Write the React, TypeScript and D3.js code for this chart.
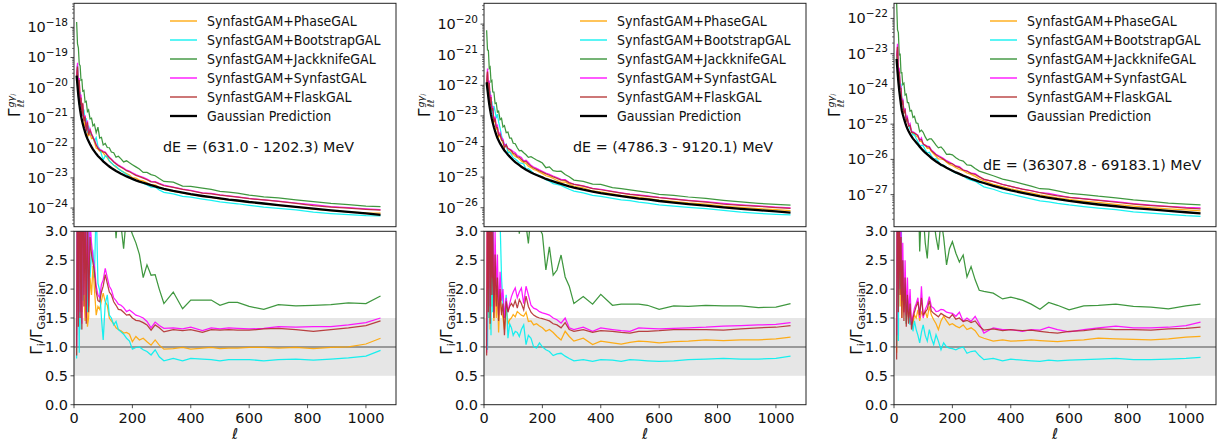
import React from "react";
import * as d3 from "d3";

// multipole bins shared by every panel
const ELL = [
  9, 12, 15, 18, 21, 24, 27, 30, 34, 38,
  42, 46, 50, 55, 60, 65, 70, 76, 82, 88,
  94, 100, 107, 114, 121, 128, 136, 144, 152, 161,
  170, 180, 190, 200, 212, 224, 237, 250, 264, 278,
  292, 308, 340, 372, 400, 440, 470, 500, 530, 560,
  600, 650, 700, 760, 820, 880, 940, 1000, 1050,
];

const SERIES = [
  "SynfastGAM+PhaseGAL",
  "SynfastGAM+BootstrapGAL",
  "SynfastGAM+JackknifeGAL",
  "SynfastGAM+SynfastGAL",
  "SynfastGAM+FlaskGAL",
];
const GAUSS_LABEL = "Gaussian Prediction";
const ENERGY_BINS = [
  "dE = (631.0 - 1202.3) MeV",
  "dE = (4786.3 - 9120.1) MeV",
  "dE = (36307.8 - 69183.1) MeV",
];
const X_TICKS = [0, 200, 400, 600, 800, 1000];
const RATIO_TICKS = [0, 0.5, 1, 1.5, 2, 2.5, 3];
const LOG_TICKS_1 = [-24, -23, -22, -21, -20, -19, -18];
const LOG_TICKS_2 = [-26, -25, -24, -23, -22, -21, -20];
const LOG_TICKS_3 = [-27, -26, -25, -24, -23, -22];

// log10 of the Gaussian prediction
const GAUSS_LOG_1 = [
  -19.6, -19.95, -20.28, -20.53, -20.75, -20.93, -21.08, -21.2, -21.35, -21.48,
  -21.6, -21.7, -21.78, -21.88, -21.97, -22.05, -22.12, -22.2, -22.27, -22.33,
  -22.39, -22.45, -22.51, -22.57, -22.62, -22.67, -22.72, -22.77, -22.81, -22.86,
  -22.9, -22.95, -22.99, -23.03, -23.08, -23.12, -23.16, -23.2, -23.24, -23.28,
  -23.32, -23.36, -23.43, -23.49, -23.54, -23.6, -23.64, -23.68, -23.72, -23.75,
  -23.8, -23.85, -23.9, -23.96, -24.02, -24.08, -24.13, -24.18, -24.23,
];
const GAUSS_LOG_2 = [
  -21.9, -22.15, -22.4, -22.62, -22.8, -22.96, -23.1, -23.22, -23.37, -23.5,
  -23.62, -23.72, -23.8, -23.9, -23.98, -24.06, -24.13, -24.2, -24.27, -24.33,
  -24.39, -24.45, -24.51, -24.56, -24.61, -24.66, -24.71, -24.76, -24.8, -24.85,
  -24.89, -24.93, -24.97, -25.01, -25.06, -25.1, -25.14, -25.18, -25.22, -25.26,
  -25.3, -25.34, -25.41, -25.47, -25.52, -25.58, -25.62, -25.66, -25.7, -25.73,
  -25.78, -25.83, -25.88, -25.93, -25.99, -26.04, -26.08, -26.12, -26.16,
];
const GAUSS_LOG_3 = [
  -23.15, -23.5, -23.8, -24.05, -24.25, -24.45, -24.62, -24.72, -24.84, -24.95,
  -25.05, -25.13, -25.2, -25.28, -25.35, -25.41, -25.46, -25.52, -25.58, -25.64,
  -25.7, -25.75, -25.81, -25.86, -25.91, -25.96, -26.01, -26.06, -26.1, -26.15,
  -26.19, -26.24, -26.28, -26.32, -26.37, -26.41, -26.46, -26.5, -26.55, -26.59,
  -26.63, -26.67, -26.75, -26.82, -26.88, -26.95, -27.0, -27.05, -27.09, -27.13,
  -27.18, -27.23, -27.28, -27.33, -27.38, -27.42, -27.46, -27.5, -27.53,
];

// ratios to the Gaussian prediction, panel 1
const PHASE_1 = [
  1.2, 4.5, 2.0, 5.5, 1.8, 3.8, 1.6, 3.2, 1.9, 1.45,
  2.6, 1.35, 1.5, 2.2, 1.9, 2.4, 2.0, 1.55, 1.7, 1.65,
  1.8, 1.93, 1.78, 1.72, 1.5, 1.45, 1.4, 1.33, 1.3, 1.28,
  1.24, 1.25, 1.22, 1.09, 1.18, 1.12, 1.15, 1.09, 1.03, 1.12,
  1.03, 0.96, 0.97, 0.99, 0.96, 0.98, 0.99, 0.97, 0.98, 0.98,
  0.99, 0.99, 0.98, 0.99, 0.97, 0.99, 1.0, 1.05, 1.15,
];
const BOOT_1 = [
  0.8, 5.0, 2.5, 0.9, 4.0, 1.3, 3.5, 1.8, 4.2, 2.3,
  3.8, 1.6, 3.3, 2.2, 2.6, 2.65, 2.2, 3.5, 2.1, 1.98,
  1.5, 1.12, 1.75, 1.9, 1.55, 1.5, 1.38, 1.44, 1.3, 1.26,
  1.22, 1.15, 1.1, 0.96, 0.99, 1.0, 0.95, 0.92, 0.86, 0.95,
  0.83, 0.76, 0.8, 0.76, 0.8, 0.79, 0.78, 0.76, 0.78, 0.78,
  0.78, 0.76, 0.78, 0.79, 0.77, 0.79, 0.81, 0.84, 0.94,
];
const JACK_1 = [
  60, 25, 40, 20, 30, 15, 22, 12, 18, 10,
  14, 8, 11, 7, 9, 6, 8, 5, 9, 4.5,
  5.5, 3.5, 4.5, 3.8, 4.2, 3.4, 3.6, 2.88, 3.4, 3.1,
  2.7, 3.3, 3.1, 2.95, 2.8, 2.6, 2.2, 2.42, 2.24, 2.25,
  2.0, 1.75, 1.95, 1.66, 1.81, 1.81, 1.81, 1.72, 1.77, 1.77,
  1.7, 1.65, 1.73, 1.71, 1.72, 1.73, 1.76, 1.75, 1.88,
];
const SYNF_1 = [
  1.0, 6.0, 1.5, 7.0, 1.6, 5.0, 1.4, 4.5, 1.9, 3.6,
  1.5, 4.0, 1.7, 3.2, 2.8, 2.55, 2.4, 2.05, 1.9, 1.85,
  2.08, 2.16, 2.36, 2.2, 2.05, 1.99, 1.85, 1.8, 1.74, 1.72,
  1.68, 1.61, 1.64, 1.6, 1.55, 1.53, 1.5, 1.44, 1.33, 1.43,
  1.37, 1.32, 1.33, 1.31, 1.34, 1.28, 1.33, 1.31, 1.33, 1.32,
  1.31, 1.32, 1.35, 1.34, 1.35, 1.35, 1.38, 1.42, 1.5,
];
const FLASK_1 = [
  0.85, 4.5, 1.35, 6.0, 1.5, 4.0, 1.3, 5.0, 1.7, 3.3,
  1.4, 3.5, 1.6, 2.9, 2.6, 2.45, 2.3, 1.95, 1.8, 1.78,
  1.95, 2.05, 2.25, 2.1, 1.95, 1.9, 1.78, 1.72, 1.65, 1.64,
  1.6, 1.55, 1.56, 1.5, 1.46, 1.45, 1.42, 1.38, 1.29, 1.38,
  1.33, 1.26, 1.3, 1.28, 1.3, 1.25, 1.3, 1.29, 1.3, 1.29,
  1.29, 1.31, 1.32, 1.3, 1.27, 1.3, 1.33, 1.37, 1.45,
];

// panel 2
const PHASE_2 = [
  1.1, 3.8, 1.5, 4.5, 1.3, 3.0, 1.7, 2.6, 1.45, 2.2,
  1.5, 2.0, 1.25, 1.9, 1.6, 1.5, 1.3, 1.7, 1.4, 1.47,
  1.5, 1.56, 1.52, 1.61, 1.58, 1.55, 1.53, 1.6, 1.44, 1.45,
  1.38, 1.4, 1.36, 1.33, 1.27, 1.3, 1.25, 1.18, 1.12, 1.27,
  1.18, 1.1, 1.15, 1.04, 1.1, 1.07, 1.05, 1.08, 1.1, 1.09,
  1.07, 1.09, 1.1, 1.12, 1.11, 1.12, 1.12, 1.14, 1.17,
];
const BOOT_2 = [
  1.0, 0.95, 3.5, 1.5, 4.0, 1.2, 3.8, 1.6, 5.0, 4.5,
  3.5, 6.0, 4.0, 3.2, 2.2, 1.73, 1.5, 1.9, 1.15, 1.4,
  1.33, 1.2, 1.27, 1.25, 1.18, 1.3, 1.38, 1.04, 1.2, 1.15,
  1.0, 0.98, 1.07, 1.0, 0.95, 0.92, 0.85, 0.88, 0.89, 0.84,
  0.8, 0.76, 0.78, 0.75, 0.78, 0.77, 0.75, 0.78, 0.77, 0.76,
  0.75, 0.76, 0.78, 0.79, 0.8, 0.79, 0.79, 0.8, 0.84,
];
const JACK_2 = [
  50, 20, 35, 15, 25, 12, 18, 10, 14, 8,
  11, 7, 9, 6, 8, 5, 6.5, 4.5, 5.5, 4.0,
  4.6, 3.6, 4.0, 3.3, 2.96, 3.4, 3.2, 3.1, 2.79, 3.3,
  3.2, 3.1, 3.05, 2.95, 2.33, 2.73, 2.24, 2.33, 2.59, 2.21,
  2.05, 1.75, 1.87, 1.74, 1.91, 1.72, 1.74, 1.74, 1.74, 1.72,
  1.65, 1.71, 1.7, 1.72, 1.71, 1.71, 1.68, 1.69, 1.75,
];
const SYNF_2 = [
  0.9, 5.0, 2.0, 6.0, 1.7, 4.5, 2.2, 3.5, 1.6, 3.0,
  1.9, 2.6, 1.55, 2.3, 1.8, 2.0, 1.5, 1.85, 1.61, 1.75,
  1.87, 1.95, 2.02, 1.85, 1.95, 2.02, 1.75, 2.05, 1.9, 1.72,
  1.67, 1.65, 1.61, 1.59, 1.57, 1.55, 1.5, 1.47, 1.41, 1.5,
  1.33, 1.3, 1.34, 1.27, 1.33, 1.3, 1.28, 1.27, 1.33, 1.32,
  1.31, 1.32, 1.33, 1.34, 1.36, 1.37, 1.38, 1.39, 1.42,
];
const FLASK_2 = [
  0.85, 4.0, 1.6, 5.0, 1.4, 3.8, 1.9, 3.0, 1.5, 2.6,
  1.7, 2.2, 1.45, 2.0, 1.55, 1.75, 1.2, 1.79, 1.6, 1.7,
  1.75, 1.7, 1.8, 1.67, 1.82, 1.75, 1.64, 1.88, 1.7, 1.6,
  1.55, 1.52, 1.5, 1.49, 1.47, 1.45, 1.4, 1.38, 1.33, 1.42,
  1.3, 1.27, 1.3, 1.25, 1.28, 1.27, 1.25, 1.24, 1.27, 1.27,
  1.28, 1.3, 1.3, 1.3, 1.29, 1.31, 1.33, 1.34, 1.37,
];

// panel 3
const PHASE_3 = [
  0.9, 5.0, 2.5, 3.8, 1.7, 2.8, 1.5, 2.2, 1.6, 2.0,
  1.4, 1.8, 1.5, 1.6, 1.45, 1.41, 1.55, 1.5, 1.64, 1.45,
  1.6, 1.55, 1.62, 1.5, 1.7, 1.55, 1.47, 1.4, 1.3, 1.45,
  1.53, 1.45, 1.38, 1.4, 1.36, 1.33, 1.38, 1.3, 1.33, 1.28,
  1.18, 1.15, 1.1, 1.12, 1.1, 1.11, 1.12, 1.11, 1.1, 1.09,
  1.11, 1.12, 1.15, 1.14, 1.13, 1.12, 1.14, 1.17, 1.18,
];
const BOOT_3 = [
  1.0, 4.0, 1.1, 3.5, 2.0, 4.0, 1.9, 2.5, 1.8, 2.1,
  1.4, 1.85, 1.6, 1.38, 1.5, 1.27, 1.45, 1.3, 1.2, 1.07,
  1.25, 1.38, 1.2, 1.1, 1.3, 1.15, 1.04, 1.21, 1.1, 0.95,
  1.07, 1.0, 0.98, 0.97, 0.95, 0.98, 1.0, 0.89, 0.92, 0.93,
  0.85, 0.78, 0.8, 0.76, 0.79, 0.77, 0.76, 0.75, 0.77, 0.76,
  0.77, 0.78, 0.79, 0.8, 0.78, 0.78, 0.79, 0.8, 0.82,
];
const JACK_3 = [
  40, 15, 25, 10, 18, 8, 12, 7, 10, 6,
  8, 5.5, 6.5, 4.5, 5.5, 4.0, 4.8, 3.6, 4.0, 2.65,
  3.4, 3.3, 2.8, 2.53, 3.1, 3.5, 3.2, 2.9, 2.68, 3.2,
  2.9, 2.42, 2.7, 2.82, 2.62, 2.47, 2.59, 2.21, 2.39, 2.16,
  1.98, 1.96, 1.93, 1.83, 1.86, 1.81, 1.74, 1.65, 1.77, 1.72,
  1.64, 1.71, 1.72, 1.74, 1.7, 1.69, 1.66, 1.71, 1.74,
];
const SYNF_3 = [
  1.2, 6.0, 2.0, 4.0, 2.3, 3.2, 1.8, 2.8, 1.6, 2.5,
  1.55, 2.2, 1.5, 2.0, 1.38, 1.55, 1.67, 1.75, 1.85, 1.5,
  2.05, 1.5, 1.65, 1.73, 1.87, 1.7, 1.67, 1.61, 1.62, 1.65,
  1.64, 1.6, 1.59, 1.58, 1.53, 1.6, 1.44, 1.5, 1.44, 1.53,
  1.4, 1.24, 1.33, 1.3, 1.3, 1.27, 1.3, 1.29, 1.34, 1.3,
  1.26, 1.3, 1.33, 1.36, 1.33, 1.33, 1.34, 1.37, 1.43,
];
const FLASK_3 = [
  0.78, 5.0, 1.6, 3.5, 1.9, 2.9, 1.5, 2.5, 1.45, 2.2,
  1.35, 1.9, 1.4, 1.75, 1.3, 1.5, 1.6, 1.7, 1.78, 1.55,
  1.85, 1.55, 1.6, 1.65, 1.8, 1.62, 1.58, 1.55, 1.52, 1.58,
  1.55, 1.52, 1.5, 1.56, 1.48, 1.5, 1.44, 1.46, 1.42, 1.45,
  1.36, 1.29, 1.31, 1.28, 1.3, 1.28, 1.29, 1.27, 1.25, 1.24,
  1.27, 1.28, 1.31, 1.3, 1.3, 1.29, 1.31, 1.32, 1.34,
];

const COLORS = ["#ffa500", "#00f0f0", "#2a8c2a", "#ff00ff", "#b22e2e"];
const FONT = "DejaVu Sans, sans-serif";
const INK = "#222";

const PANELS = [
  { gauss: GAUSS_LOG_1, ratios: [PHASE_1, BOOT_1, JACK_1, SYNF_1, FLASK_1], ticks: LOG_TICKS_1, dom: [-24.62, -17.2], label: ENERGY_BINS[0], labelY: 152 },
  { gauss: GAUSS_LOG_2, ratios: [PHASE_2, BOOT_2, JACK_2, SYNF_2, FLASK_2], ticks: LOG_TICKS_2, dom: [-26.62, -19.32], label: ENERGY_BINS[1], labelY: 152 },
  { gauss: GAUSS_LOG_3, ratios: [PHASE_3, BOOT_3, JACK_3, SYNF_3, FLASK_3], ticks: LOG_TICKS_3, dom: [-27.91, -21.57], label: ENERGY_BINS[2], labelY: 170 },
];

const L = 74, R = 396, T0 = 3.3, T1 = 226.7, B0 = 231.3, B1 = 404.7;

function Panel({ p, dx, idx }) {
  const x = d3.scaleLinear().domain([0, 1103]).range([L, R]);
  const yT = d3.scaleLog().domain([10 ** p.dom[0], 10 ** p.dom[1]]).range([T1, T0]);
  const yB = d3.scaleLinear().domain([0, 3]).range([B1, B0]);
  const gauss = p.gauss.map((v) => 10 ** v);

  const lineT = d3.line<number>().x((_, i) => x(ELL[i])).y((d) => yT(d));
  const lineB = d3.line<number>().x((_, i) => x(ELL[i])).y((d) => yB(d));

  // minor log ticks
  const minor: number[] = [];
  for (let e = Math.floor(p.dom[0]); e < p.dom[1]; e++) {
    for (let k = 2; k < 10; k++) {
      const v = k * 10 ** e;
      if (v > 10 ** p.dom[0] && v < 10 ** p.dom[1]) minor.push(v);
    }
  }

  const clipT = `clipT${idx}`;
  const clipB = `clipB${idx}`;

  return (
    <g transform={`translate(${dx},0)`} fontFamily={FONT}>
      <defs>
        <clipPath id={clipT}>
          <rect x={L} y={T0} width={R - L} height={T1 - T0} />
        </clipPath>
        <clipPath id={clipB}>
          <rect x={L} y={B0} width={R - L} height={B1 - B0} />
        </clipPath>
      </defs>

      {/* ---- top panel ---- */}
      <g clipPath={`url(#${clipT})`} fill="none">
        {p.ratios.map((r, s) => (
          <path
            key={s}
            d={lineT(r.map((v, i) => v * gauss[i])) || ""}
            stroke={COLORS[s]}
            strokeWidth={1.25}
            strokeOpacity={0.9}
          />
        ))}
        <path d={lineT(gauss) || ""} stroke="#000" strokeWidth={2.3} />
      </g>
      <rect x={L} y={T0} width={R - L} height={T1 - T0} fill="none" stroke={INK} strokeWidth={1} />
      {minor.map((v, i) => (
        <line key={i} x1={L - 2} x2={L} y1={yT(v)} y2={yT(v)} stroke={INK} strokeWidth={0.6} />
      ))}
      {p.ticks.map((e) => (
        <g key={e}>
          <line x1={L - 3.5} x2={L} y1={yT(10 ** e)} y2={yT(10 ** e)} stroke={INK} strokeWidth={0.8} />
          <text x={L - 6} y={yT(10 ** e) + 5} textAnchor="end" fontSize={14.5} fill="#111">
            10<tspan dy={-6.5} fontSize={10.5}>{`\u2212${Math.abs(e)}`}</tspan>
          </text>
        </g>
      ))}
      <g transform={`translate(20,117) rotate(-90)`} fill="#111">
        <text x={0} y={0} fontSize={15.5}>Γ</text>
        <text x={9.5} y={-6} fontSize={9.5} fontStyle="italic">
          gγ<tspan dy={2} fontSize={7}>i</tspan>
        </text>
        <text x={9.5} y={4} fontSize={9.5} fontStyle="italic">ℓℓ</text>
      </g>

      {/* legend */}
      {[...SERIES, GAUSS_LABEL].map((name, i) => {
        const ly = 21 + i * 19;
        return (
          <g key={name}>
            <line
              x1={170}
              x2={197}
              y1={ly}
              y2={ly}
              stroke={i < 5 ? COLORS[i] : "#000"}
              strokeWidth={i < 5 ? 1.3 : 2.3}
            />
            <text transform={`translate(207,${ly + 5}) scale(0.9,1)`} fontSize={14} fill="#111">
              {name}
            </text>
          </g>
        );
      })}
      <text x={163} y={p.labelY} fontSize={14.3} fill="#111">
        {p.label}
      </text>

      {/* ---- bottom panel ---- */}
      <rect x={L} y={yB(1.5)} width={R - L} height={yB(0.5) - yB(1.5)} fill="#e6e6e6" />
      <line x1={L} x2={R} y1={yB(1)} y2={yB(1)} stroke="#999" strokeWidth={2} />
      <g clipPath={`url(#${clipB})`} fill="none">
        {p.ratios.map((r, s) => (
          <path key={s} d={lineB(r) || ""} stroke={COLORS[s]} strokeWidth={1.25} strokeOpacity={0.9} />
        ))}
      </g>
      <rect x={L} y={B0} width={R - L} height={B1 - B0} fill="none" stroke={INK} strokeWidth={1} />
      {RATIO_TICKS.map((t) => (
        <g key={t}>
          <line x1={L - 3.5} x2={L} y1={yB(t)} y2={yB(t)} stroke={INK} strokeWidth={0.8} />
          <text x={L - 6} y={yB(t) + 5} textAnchor="end" fontSize={14.5} fill="#111">
            {t.toFixed(1)}
          </text>
        </g>
      ))}
      {X_TICKS.map((t) => (
        <g key={t}>
          <line x1={x(t)} x2={x(t)} y1={B1} y2={B1 + 3.5} stroke={INK} strokeWidth={0.8} />
          <text x={x(t)} y={B1 + 18} textAnchor="middle" fontSize={14.5} fill="#111">
            {t}
          </text>
        </g>
      ))}
      <text x={(L + R) / 2} y={439} textAnchor="middle" fontSize={15} fontStyle="italic" fill="#111">
        ℓ
      </text>
      <text
        transform={`translate(42,${(B0 + B1) / 2}) rotate(-90)`}
        textAnchor="middle"
        fontSize={15.5}
        fill="#111"
      >
        Γ<tspan fontSize={10.5} dy={3}>i</tspan>
        <tspan dy={-3}>/Γ</tspan>
        <tspan fontSize={10.5} dy={3}>Gaussian</tspan>
      </text>
    </g>
  );
}

export default function App() {
  return (
    <svg
      width={1221}
      height={443}
      style={{ position: "absolute", left: 0, top: 0, background: "#fff" }}
    >
      {PANELS.map((p, i) => (
        <Panel key={i} p={p} dx={i * 410} idx={i} />
      ))}
    </svg>
  );
}
